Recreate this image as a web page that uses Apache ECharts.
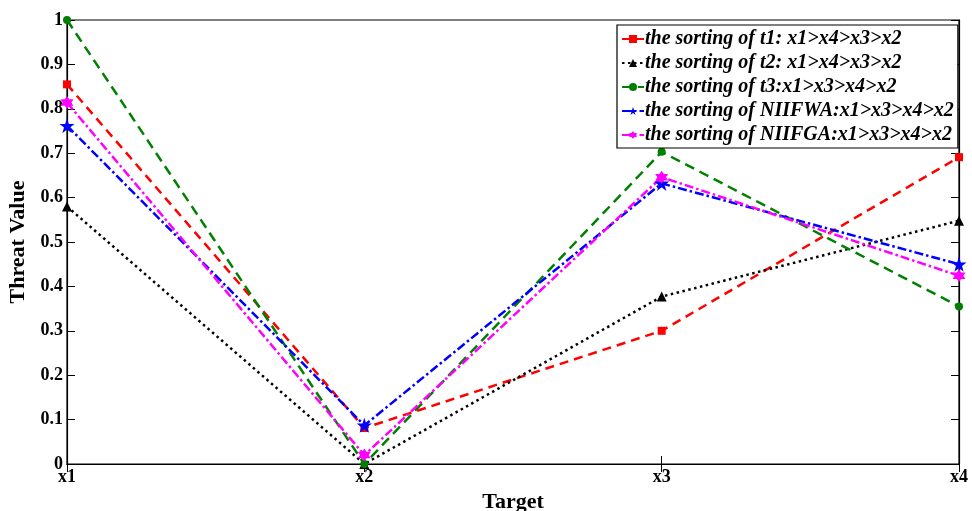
<!DOCTYPE html>
<html><head><meta charset="utf-8">
<script src="https://cdn.jsdelivr.net/npm/echarts@6/dist/echarts.min.js"></script>
<style>html,body{margin:0;padding:0;background:#fff}#c{width:972px;height:511px}</style>
</head><body><div id="c"></div>
<script>
var categories = ['x1','x2','x3','x4'];
var yTicks = ['0','0.1','0.2','0.3','0.4','0.5','0.6','0.7','0.8','0.9','1'];
var t1 = [0.855, 0.081, 0.300, 0.691];
var t2 = [0.580, 0.000, 0.377, 0.548];
var t3 = [1.000, 0.000, 0.703, 0.355];
var niifwa = [0.762, 0.087, 0.632, 0.450];
var niifga = [0.814, 0.020, 0.646, 0.424];
var names = [
  'the sorting of t1: x1>x4>x3>x2',
  'the sorting of t2: x1>x4>x3>x2',
  'the sorting of t3:x1>x3>x4>x2',
  'the sorting of NIIFWA:x1>x3>x4>x2',
  'the sorting of NIIFGA:x1>x3>x4>x2'
];
var font = 'Liberation Serif, Times New Roman, serif';
var hexStar = 'path://M0,-10 L2.9,-5 L8.7,-5 L5.8,0 L8.7,5 L2.9,5 L0,10 L-2.9,5 L-8.7,5 L-5.8,0 L-8.7,-5 L-2.9,-5 Z';
var chart = echarts.init(document.getElementById('c'));
function s(name, data, color, type, symbol, size) {
  return {name: name, type: 'line', data: data, symbol: symbol, symbolSize: size,
    itemStyle: {color: color}, lineStyle: {color: color, width: 2.5, type: type},
    emphasis: {disabled: true}, z: 3};
}
chart.setOption({
  animation: false,
  grid: {left: 67, right: 13, top: 20, bottom: 47, show: true, borderColor: '#000', borderWidth: 1.2,
    containLabel: false, outerBoundsMode: 'none'},
  legend: {
    orient: 'vertical', left: 617, top: 25, itemWidth: 22, itemHeight: 10, itemGap: 4,
    backgroundColor: '#fff', borderColor: '#000', borderWidth: 1.2, padding: [4, 4, 3, 4],
    textStyle: {fontFamily: font, fontSize: 20, fontWeight: 'bold', fontStyle: 'italic', color: '#000', padding: [0, 0, 0, -4]},
    data: names
  },
  xAxis: [{
    type: 'category', data: categories, boundaryGap: false,
    name: 'Target', nameLocation: 'middle', nameGap: 22,
    nameTextStyle: {fontFamily: font, fontSize: 22, fontWeight: 'bold', color: '#000'},
    axisLine: {lineStyle: {color: '#000', width: 1.2}},
    axisTick: {inside: true, length: 8, alignWithLabel: true, lineStyle: {color: '#000'}},
    axisLabel: {fontFamily: font, fontSize: 18, fontWeight: 'bold', color: '#000', margin: 4},
    splitLine: {show: false}
  }, {
    type: 'category', data: categories, boundaryGap: false, position: 'top',
    axisLine: {lineStyle: {color: '#000', width: 1.2}},
    axisTick: {inside: true, length: 8, lineStyle: {color: '#000'}},
    axisLabel: {show: false}, splitLine: {show: false}
  }],
  yAxis: [{
    type: 'value', min: 0, max: 1, interval: 0.1,
    name: 'Threat Value', nameLocation: 'middle', nameGap: 38,
    nameTextStyle: {fontFamily: font, fontSize: 22, fontWeight: 'bold', color: '#000'},
    axisLine: {show: true, lineStyle: {color: '#000', width: 1.2}},
    axisTick: {show: true, inside: true, length: 8, lineStyle: {color: '#000'}},
    axisLabel: {fontFamily: font, fontSize: 18, fontWeight: 'bold', color: '#000', margin: 4,
      formatter: function (v) { return yTicks[Math.round(v * 10)]; }},
    splitLine: {show: false}
  }, {
    type: 'value', min: 0, max: 1, interval: 0.1, position: 'right',
    axisLine: {show: true, lineStyle: {color: '#000', width: 1.2}},
    axisTick: {show: true, inside: true, length: 8, lineStyle: {color: '#000'}},
    axisLabel: {show: false}, splitLine: {show: false}
  }],
  series: [
    s(names[0], t1, '#ff0000', [9, 6], 'rect', 8),
    s(names[1], t2, '#000000', [2.5, 3.5], 'triangle', 10),
    s(names[2], t3, '#008000', [10, 6], 'circle', 8),
    s(names[3], niifwa, '#0000ff', [9, 3, 2.5, 3], 'path://M0,-10 L2.35,-3.1 L9.5,-3.1 L3.8,1.2 L5.9,8.1 L0,3.8 L-5.9,8.1 L-3.8,1.2 L-9.5,-3.1 L-2.35,-3.1 Z', 15),
    s(names[4], niifga, '#ff00ff', [9, 3, 2.5, 3], hexStar, 13)
  ]
});
</script></body></html>
